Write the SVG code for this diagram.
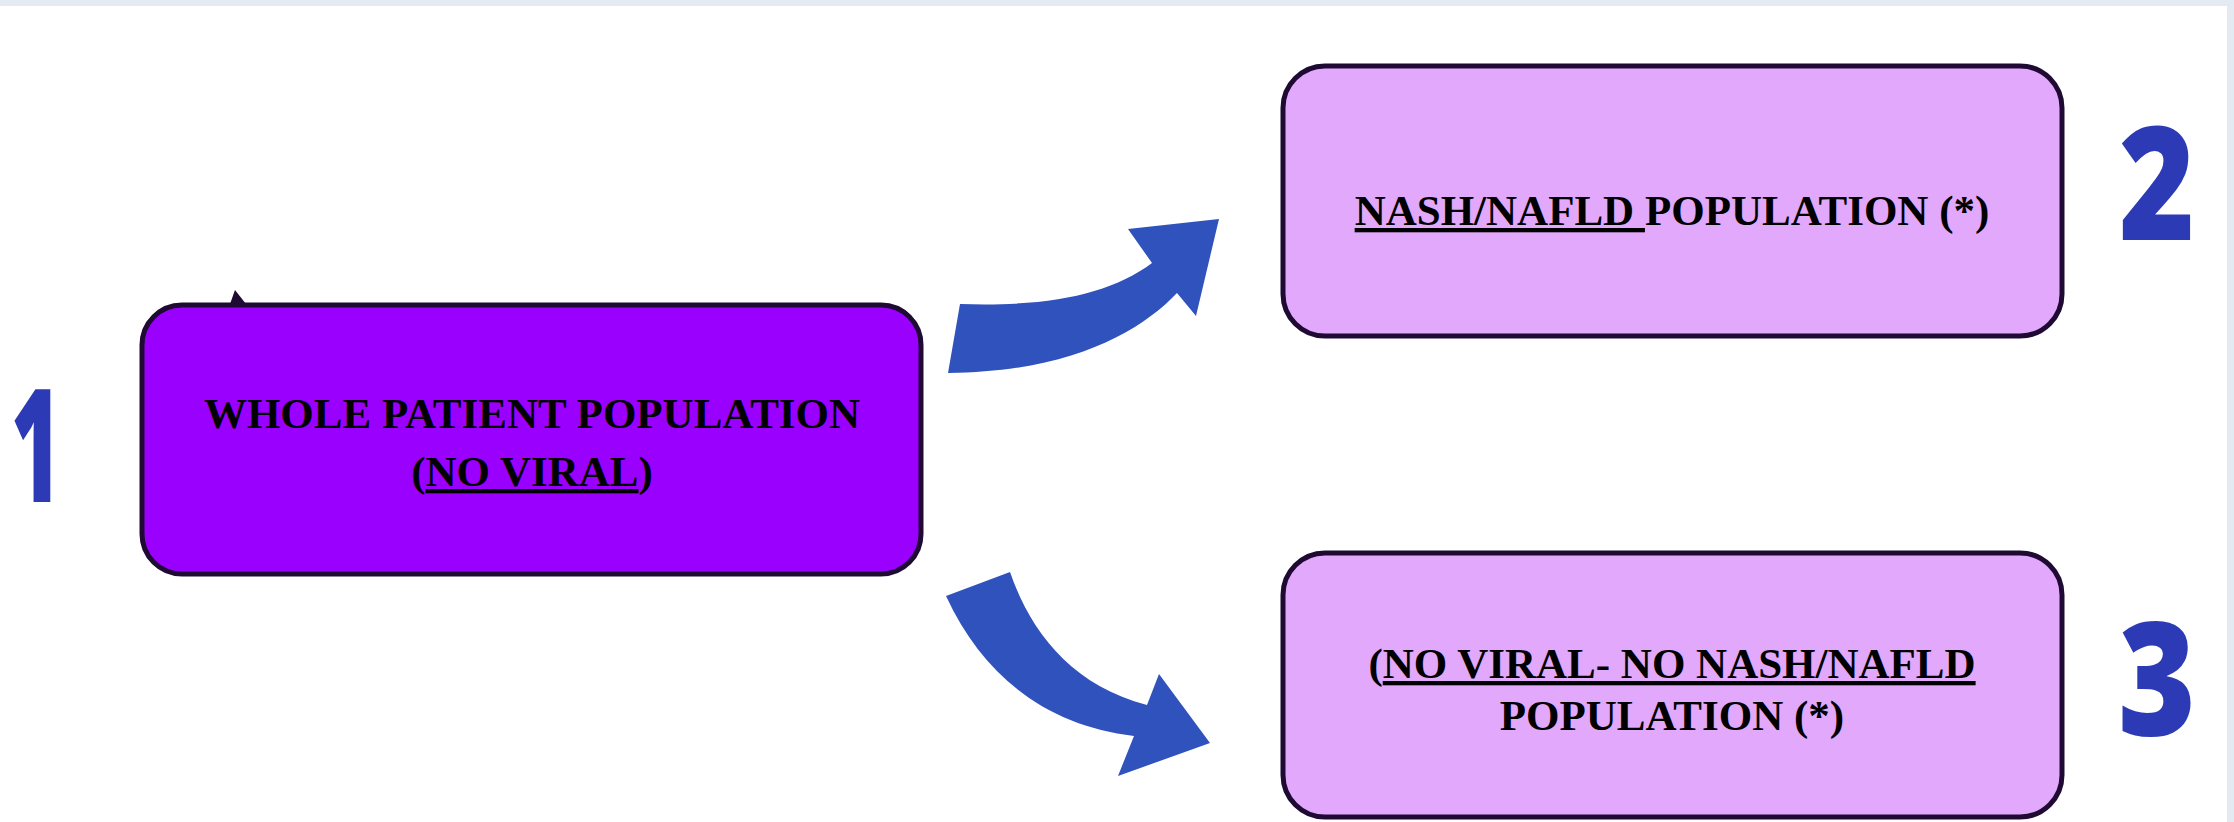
<svg xmlns="http://www.w3.org/2000/svg" width="2234" height="822" viewBox="0 0 2234 822">
  <style>
    .box { stroke: #1e0a33; stroke-width: 5; }
    .main { fill: #9a00fe; }
    .sub { fill: #e2a8fc; }
    .lbl { font-family: "Liberation Serif", "Times New Roman", serif; font-weight: bold; font-size: 43px; fill: #000; text-anchor: middle; }
    .u { text-decoration: underline; }
    .num { font-family: "Open Sans", "Noto Sans", sans-serif; font-weight: 800; font-size: 157px; fill: #2c3ab5; text-anchor: middle; }
    .arrow { fill: #2f52bd; }
  </style>
  <rect x="0" y="0" width="2234" height="822" fill="#ffffff"/>
  <rect x="0" y="0" width="2234" height="6" fill="#e3eaf2"/>
  <rect x="2227" y="0" width="7" height="822" fill="#e3eaf2"/>

  <g id="connectors">
    <path class="arrow" d="M 960 304 C 1050 307, 1110 294, 1152 263 L 1128 229 L 1219 219 L 1196 316 L 1177 293 C 1140 332, 1070 372, 948 373 Z"/>
    <path class="arrow" d="M 1010 572 C 1030 630, 1070 685, 1147 705 L 1159 674 L 1210 743 L 1118 776 L 1134 736 C 1050 726, 985 680, 946 596 Z"/>
  </g>

  <g id="node-whole">
    <polygon points="230,304 235,290 246,304" fill="#1e0a33"/>
    <rect class="box main" x="142" y="305" width="779" height="269" rx="40" ry="40"/>
    <text class="lbl" x="532" y="428">WHOLE PATIENT POPULATION</text>
    <text class="lbl" x="532" y="486">(<tspan class="u">NO VIRAL</tspan>)</text>
  </g>

  <g id="node-nash">
    <rect class="box sub" x="1283" y="66" width="779" height="270" rx="42" ry="42"/>
    <text class="lbl" x="1672" y="225"><tspan class="u">NASH/NAFLD </tspan>POPULATION (*)</text>
  </g>

  <g id="node-noviral">
    <rect class="box sub" x="1283" y="553" width="779" height="264" rx="42" ry="42"/>
    <text class="lbl" x="1672" y="678">(<tspan class="u">NO VIRAL- NO NASH/NAFLD</tspan></text>
    <text class="lbl" x="1672" y="730">POPULATION (*)</text>
  </g>

  <g id="labels">
    <text class="num" x="36" y="502" textLength="50" lengthAdjust="spacingAndGlyphs">1</text>
    <text class="num" x="2157" y="240" textLength="76" lengthAdjust="spacingAndGlyphs">2</text>
    <text class="num" x="2157" y="735" textLength="78" lengthAdjust="spacingAndGlyphs">3</text>
  </g>
</svg>
